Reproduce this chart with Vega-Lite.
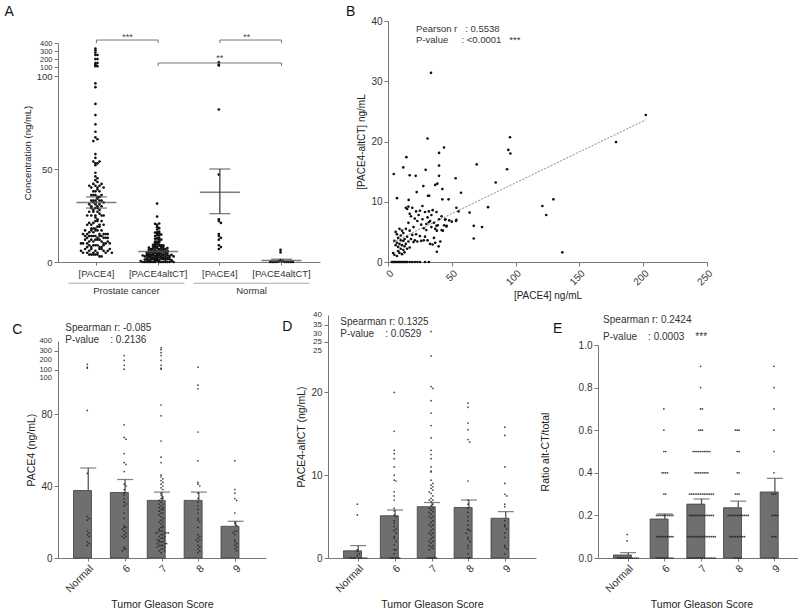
{
"$schema":"https://vega.github.io/schema/vega-lite/v6.json",
"padding":{"left":4,"top":5,"right":0,"bottom":0},
"background":"white",
"config":{"font":"Liberation Sans","view":{"stroke":null},
 "axis":{"domainColor":"#777","tickColor":"#777","labelColor":"#333","titleColor":"#222","titleFontWeight":"normal","labelFontSize":10,"titleFontSize":10.5,"grid":false,"labelFlush":false,"labelOverlap":false,"tickSize":4,"titlePadding":4}},
"datasets":{
 "pace4":[
  {"g":"Normal","v":[160,130,120,82,47,23,22,21,15,14,13,12,9,8,7]},
  {"g":"6","v":[250,200,150,110,74,67,66,58,53,52,48,41,40,38,36,35,33,31,30,29,25,22,18,17,17,16,15,14,13,12,12,11,6,5,5,4]},
  {"g":"7","v":[330,310,280,250,200,150,120,110,85,79,65,56,53,46,45,44,43,42,41,40,39,38,36,35,34,33,33,32,31,30,30,29,28,28,27,27,26,25,25,24,23,22,21,20,20,19,18,17,17,16,15,15,15,14,14,14,14,14,13,13,12,12,11,11,10,10,10,9,9,9,8,8,8,7,7,7,6,6,5,5,4,4,3]},
  {"g":"8","v":[130,96,94,70,54,42,41,40,36,33,31,29,27,25,22,21,20,17,13,12,11,10,10,9,7,6,5,4,3]},
  {"g":"9","v":[54,38,36,33,32,25,20,19,18,15,15,14,13,10,9,8,7,6,5,4]}
 ],
 "alt":[
  {"g":"Normal","v":[6.5,5.2,1.0,0.8,0.5,0.3,0,0,0,0,0,0,0,0,0]},
  {"g":"6","v":[20,15.3,13,12.6,12,11,10,9.4,9.3,8,7.5,7,6,5.7,5.2,5,4.5,4.2,3.8,3.5,3.3,3,2.6,2.4,2,1.6,1,1,0.5,0,0,0,0,0,0]},
  {"g":"7","v":[31.4,24.4,20.7,20.5,19,17.5,16,14.5,13,12.5,12,11,10.5,10.4,9.4,9,8.8,8.6,8.4,8.2,8,7.8,7.5,7.2,7,7,6.8,6.5,6.3,6,6,5.8,5.6,5.5,5.3,5,5,4.8,4.5,4.3,4,4,3.8,3.5,3.3,3,3,2.8,2.5,2.3,2,2,1.8,1.5,1.5,1.3,1.2,1,0,0,0,0,0,0]},
  {"g":"8","v":[18.7,18.2,16.3,15.5,14.3,14,9.3,7,6.5,6,5.5,5,4.5,4,3.5,3.4,3.3,3,2.5,2.3,2,1.5,1.2,0.5,0,0]},
  {"g":"9","v":[15.8,14.8,11,9,7.7,7.5,6.5,6.2,4.5,4,3.8,3.5,3,2.5,1.5,1.3,1.1,0.5]}
 ],
 "ratio":[
  {"g":"Normal","v":[0.11,0.08,0,0,0,0,0,0,0,0,0,0,0,0]},
  {"g":"6","v":[0.7,0.6,0.5,0.5,0.4,0.4,0.4,0.4,0.3,0.3,0.2,0.2,0.2,0.2,0.2,0.2,0.2,0.2,0.2,0.2,0.1,0.1,0.1,0.1,0.1,0.1,0.1,0.1,0.1,0.1,0,0,0,0,0,0,0,0,0,0]},
  {"g":"7","v":[0.9,0.8,0.7,0.7,0.6,0.6,0.6,0.5,0.5,0.5,0.5,0.5,0.5,0.5,0.5,0.5,0.5,0.4,0.4,0.4,0.4,0.4,0.4,0.4,0.4,0.3,0.3,0.3,0.3,0.3,0.3,0.3,0.3,0.3,0.3,0.3,0.3,0.3,0.3,0.2,0.2,0.2,0.2,0.2,0.2,0.2,0.2,0.2,0.2,0.2,0.2,0.2,0.2,0.1,0.1,0.1,0.1,0.1,0.1,0.1,0.1,0.1,0.1,0.1,0.1,0.1,0.1,0.1,0.1,0,0,0,0,0,0,0,0,0,0,0,0,0,0,0,0]},
  {"g":"8","v":[0.6,0.6,0.6,0.5,0.5,0.4,0.4,0.3,0.3,0.3,0.2,0.2,0.2,0.2,0.2,0.2,0.2,0.2,0.2,0.2,0.2,0.2,0.1,0.1,0.1,0.1,0.1,0.1,0.1,0.1,0.1,0,0,0,0,0]},
  {"g":"9","v":[0.9,0.8,0.7,0.6,0.5,0.4,0.3,0.3,0.3,0.2,0.2,0.2,0.2,0.1,0.1,0.1,0]}
 ],
 "cbar":[{"g":["Normal","6","7","8","9"],"m":[37.5,36.4,32,32,17.6],"hi":[50,43.6,36.6,36.6,20.4]}],
 "dbar":[{"g":["Normal","6","7","8","9"],"m":[0.87,5.1,6.2,6.1,4.8],"hi":[1.5,5.8,6.7,7.0,5.6]}],
 "ebar":[{"g":["Normal","6","7","8","9"],"m":[0.014,0.183,0.253,0.236,0.31],"hi":[0.025,0.207,0.277,0.267,0.374]}],
 "asum":[{"g":["PC_P","PC_A","N_P","N_A"],"m":[32,5.7,37.5,0.87],"lo":[29,5.35,26,0.25],"hi":[35,6.05,50,1.5]}],
 "brk":[
  {"b":"b1","g":["PC_P","PC_P","PC_A","PC_A"],"y":[400,437,437,400],"o":[1,2,3,4]},
  {"b":"b2","g":["N_P","N_P","N_A","N_A"],"y":[400,437,437,400],"o":[1,2,3,4]},
  {"b":"b3","g":["PC_A","PC_A","N_A","N_A"],"y":[113,151,151,113],"o":[1,2,3,4]}
 ],
 "grp":[{"grp":"Prostate cancer"},{"grp":"Normal"}],
 "clab":[{"t":"100","y":100},{"t":"100","y":101},{"t":"200","y":200},{"t":"300","y":300},{"t":"400","y":400}],
 "dlab":[{"t":"25","y":25},{"t":"25","y":26},{"t":"30","y":30},{"t":"35","y":35},{"t":"40","y":40}],
 "bxy":[
  {"x":[3,4,5,6,7,8,9,10,11,12,13,14,15,17,19,21,23,25,29,32],"y":[0,0,0,0,0,0,0,0,0,0,0,0,0,0,0,0,0,0,0,0]},
  {"x":[33.7,31,95.6,178.7,202,43.9,14.4,94.3,95.9,40,4.5,12,17,21.7,29.5,40,40,69.5,93.3,84.4,27.7,31.3,32.3,22.5,37,38.7,42.6,53,57.2,7,16.2,42.6,47.5,78.4,121,124,129.6,136.6,64,67.2,67.2,73.7,53.6,53.6,53.3,55.3,44.7,45.7,42,37,38.3,39.7,38.3],
   "y":[31.4,20.5,20.7,19.9,24.4,19,17.4,18.6,18,18.1,14.6,15.7,14.4,14.3,15.3,16,14.3,16.2,15.4,13.2,12.6,11,11,11.6,12.8,13,12.1,13.9,11.5,10.6,10.3,10.4,10.4,9.1,9.3,7.8,10.4,1.6,8.2,6,3.9,5.8,9,7,6.8,8.4,7,5.9,5.3,3.2,1.7,2.6,5.2]},
  {"x":[4,5,5,6,6,7,7,7,8,8,8,9,9,9,10,10,10,11,11,11,12,12,12,13,13,13,14,14,14,15,15,15,16,16,16,17,17,17,18,18,19,19,20,20,21,21,22,22,23,23,24,25,25,26,26,27,27,28,28,29,29,30,30,31,31,32,32,33,33,34,34,35,35,36,36,37,38,38,39,40,41,42,43,44,45,46,48,50],
   "y":[1.5,1.2,3.5,5,2.8,1.0,3.2,4.6,2.5,1.8,4.0,3.0,1.5,5.5,2.2,4.4,3.6,2.8,1.3,5.2,3.5,2.0,4.8,2.6,3.8,1.6,5.5,3.0,9.0,2.2,4.2,8.8,6.5,3.4,9.2,5.2,2.4,8.0,3.8,7.6,4.5,9.0,3.3,5.8,7.2,3.6,4.6,8.4,3.4,6.8,7.8,4.3,8.5,3.5,6.2,9.3,7.1,3.6,5.6,8.3,4.2,6.3,5.3,7.4,3.6,6.6,8.4,3.0,6.8,5.8,7.8,8.6,2.9,6.5,4.0,5.5,8.3,6.0,6.1,7.1,3.4,7.6,5.2,6.1,7.1,6.0,6.9,6.7]}
 ],
 "breg":[{"x":[4,202],"y":[3.3,23.6]}]
},
"spacing":10,
"resolve":{"scale":{"xOffset":"independent","x":"independent","y":"independent"}},
"vconcat":[
 {"hconcat":[
  {"width":262,"height":241,
   "layer":[
    {"layer":[
     {"data":{"name":"pace4"},"transform":[{"flatten":["v"]},{"filter":"datum.g!='Normal'"},{"bin":{"step":2.5},"field":"v","as":"vb"},{"window":[{"op":"row_number","as":"r"}],"groupby":["vb"]}],
      "mark":{"type":"circle","size":7,"color":"#111","opacity":1},
      "encoding":{
       "x":{"datum":"PC_P","type":"nominal","scale":{"type":"band","domain":["PC_P","PC_A","N_P","N_A"],"paddingInner":0,"paddingOuter":0.123},
            "axis":{"title":null,"labelExpr":"datum.value=='PC_P'||datum.value=='N_P'?'[PACE4]':'[PACE4altCT]'","labelAngle":0,"labelFontSize":9.5,"tickSize":3,"labelPadding":3}},
       "xOffset":{"field":"r","type":"nominal","scale":{"domain":[29,27,25,23,21,19,17,15,13,11,9,7,5,3,1,2,4,6,8,10,12,14,16,18,20,22,24,26,28,30],"range":[0,61.7]}},
       "y":{"field":"v","type":"quantitative","scale":{"domain":[0,100,101,400],"range":[241,55,46,22],"nice":false,"zero":false},
            "axis":{"title":"Concentration (ng/mL)","values":[0,50,100,101,200,300,400],"labelExpr":"datum.value==101?'100':datum.label","labelOverlap":false,"labelSeparation":-8,"labelFontSize":{"condition":{"test":"datum.value>100","value":7.5},"value":9.5},"titleFontSize":9.5}}}},
     {"data":{"name":"alt"},"transform":[{"flatten":["v"]},{"filter":"datum.g!='Normal'"},{"bin":{"step":1},"field":"v","as":"vb"},{"window":[{"op":"row_number","as":"r"}],"groupby":["vb"]}],
      "mark":{"type":"circle","size":7,"color":"#111","opacity":1},
      "encoding":{"x":{"datum":"PC_A","type":"nominal"},"xOffset":{"field":"r","type":"nominal"},"y":{"field":"v","type":"quantitative"}}},
     {"data":{"name":"pace4"},"transform":[{"flatten":["v"]},{"filter":"datum.g=='Normal'"},{"bin":{"step":2.5},"field":"v","as":"vb"},{"window":[{"op":"row_number","as":"r"}],"groupby":["vb"]}],
      "mark":{"type":"circle","size":7,"color":"#111","opacity":1},
      "encoding":{"x":{"datum":"N_P","type":"nominal"},"xOffset":{"field":"r","type":"nominal"},"y":{"field":"v","type":"quantitative"}}},
     {"data":{"name":"alt"},"transform":[{"flatten":["v"]},{"filter":"datum.g=='Normal'"},{"bin":{"step":1},"field":"v","as":"vb"},{"window":[{"op":"row_number","as":"r"}],"groupby":["vb"]}],
      "mark":{"type":"circle","size":7,"color":"#111","opacity":1},
      "encoding":{"x":{"datum":"N_A","type":"nominal"},"xOffset":{"field":"r","type":"nominal"},"y":{"field":"v","type":"quantitative"}}},
     {"data":{"name":"asum"},"transform":[{"flatten":["g","m","lo","hi"]}],
      "mark":{"type":"rule","color":"#444","strokeWidth":1.3},
      "encoding":{"x":{"field":"g","type":"nominal"},"y":{"field":"lo","type":"quantitative"},"y2":{"field":"hi"}}},
     {"data":{"name":"asum"},"transform":[{"flatten":["g","m","lo","hi"]}],
      "mark":{"type":"tick","color":"#444","size":40,"thickness":1.5},
      "encoding":{"x":{"field":"g","type":"nominal"},"y":{"field":"m","type":"quantitative"}}},
     {"data":{"name":"asum"},"transform":[{"flatten":["g","m","lo","hi"]}],
      "mark":{"type":"tick","color":"#444","size":21,"thickness":1.3},
      "encoding":{"x":{"field":"g","type":"nominal"},"y":{"field":"lo","type":"quantitative"}}},
     {"data":{"name":"asum"},"transform":[{"flatten":["g","m","lo","hi"]}],
      "mark":{"type":"tick","color":"#444","size":21,"thickness":1.3},
      "encoding":{"x":{"field":"g","type":"nominal"},"y":{"field":"hi","type":"quantitative"}}},
     {"data":{"name":"brk"},"transform":[{"flatten":["g","y","o"]}],
      "mark":{"type":"line","color":"#666","strokeWidth":0.9},
      "encoding":{"x":{"field":"g","type":"nominal"},"y":{"field":"y","type":"quantitative"},"detail":{"field":"b"},"order":{"field":"o"}}},
     {"data":{"values":[{}]},"mark":{"type":"text","text":"***","fontSize":9,"color":"#444","dx":31,"baseline":"middle"},
      "encoding":{"x":{"datum":"PC_P","type":"nominal"},"y":{"datum":480}}},
     {"data":{"values":[{}]},"mark":{"type":"text","text":"**","fontSize":9,"color":"#444","dx":27,"baseline":"middle"},
      "encoding":{"x":{"datum":"N_P","type":"nominal"},"y":{"datum":480}}},
     {"data":{"values":[{}]},"mark":{"type":"text","text":"**","fontSize":9,"color":"#444","baseline":"middle"},
      "encoding":{"x":{"datum":"N_P","type":"nominal"},"y":{"datum":215}}},
     {"data":{"values":[{}]},"mark":{"type":"text","text":"A","fontSize":14,"color":"#111","align":"left","baseline":"top","dx":-92,"dy":-38},
      "encoding":{"x":{"datum":"PC_P","type":"nominal"},"y":{"datum":400}}}
    ]},
    {"data":{"name":"grp"},"mark":{"type":"tick","color":"#888","size":116,"thickness":1},
     "encoding":{"x":{"field":"grp","type":"nominal","sort":["Prostate cancer","Normal"],"scale":{"type":"band","paddingInner":0.08,"paddingOuter":0.087},
       "axis":{"orient":"bottom","offset":20,"domain":false,"ticks":false,"title":null,"labelAngle":0,"labelFontSize":9.5,"labelPadding":3}},
      "y":{"datum":-11.4}}}
   ],
   "resolve":{"scale":{"x":"independent"}}
  },
  {"width":319,"height":241,
   "layer":[
    {"data":{"name":"bxy"},"transform":[{"flatten":["x","y"]}],
     "mark":{"type":"circle","size":7,"color":"#111","opacity":1},
     "encoding":{"x":{"field":"x","type":"quantitative","scale":{"domain":[0,250],"nice":false},"axis":{"title":"[PACE4] ng/mL","values":[0,50,100,150,200,250],"labelAngle":-45,"titleFontSize":10}},
      "y":{"field":"y","type":"quantitative","scale":{"domain":[0,40],"nice":false},"axis":{"title":"[PACE4-altCT] ng/mL","values":[0,10,20,30,40],"titleFontSize":10}}}},
    {"data":{"name":"breg"},"transform":[{"flatten":["x","y"]}],
     "mark":{"type":"line","color":"#777","strokeWidth":0.9,"strokeDash":[2,1.5]},
     "encoding":{"x":{"field":"x","type":"quantitative"},"y":{"field":"y","type":"quantitative"}}},
    {"data":{"values":[{}]},"mark":{"type":"text","text":"Pearson r\u00a0\u00a0\u00a0: 0.5538","fontSize":9.5,"color":"#333","align":"left","baseline":"middle"},
     "encoding":{"x":{"datum":22},"y":{"datum":38.6}}},
    {"data":{"values":[{}]},"mark":{"type":"text","text":"P-value\u00a0\u00a0\u00a0\u00a0\u00a0: <0.0001\u00a0\u00a0\u00a0***","fontSize":9.5,"color":"#333","align":"left","baseline":"middle"},
     "encoding":{"x":{"datum":22},"y":{"datum":36.9}}},
    {"data":{"values":[{}]},"mark":{"type":"text","text":"B","fontSize":14,"color":"#111","align":"left","baseline":"top","dx":-42,"dy":-16},
     "encoding":{"x":{"datum":0},"y":{"datum":40}}}
   ]}
 ],"spacing":68,"bounds":"flush","resolve":{"scale":{"xOffset":"independent","x":"independent","y":"independent"}}},
 {"hconcat":[
  {"width":208,"height":243,
   "layer":[
    {"data":{"name":"cbar"},"transform":[{"flatten":["g","m","hi"]}],
     "mark":{"type":"rule","color":"#4a4a4a","strokeWidth":1.2},
     "encoding":{"x":{"field":"g","type":"nominal","scale":{"type":"band","domain":["Normal","6","7","8","9"],"paddingInner":0.2,"paddingOuter":0.42},
       "axis":{"title":"Tumor Gleason Score","labelAngle":-45,"labelFontSize":10.5,"tickSize":3,"titlePadding":5}},
      "y":{"field":"m","type":"quantitative","scale":{"domain":[0,100,101,400],"range":[243,63,55,26],"nice":false,"zero":false},
       "axis":{"title":"PACE4 (ng/mL)","values":[0,20,40,60,80,100,101,200,300,400],"labelExpr":"datum.value>=100?'':datum.label","labelOverlap":false}},
      "y2":{"field":"hi"}}},
    {"data":{"name":"cbar"},"transform":[{"flatten":["g","m","hi"]}],
     "mark":{"type":"bar","color":"#6f6f6f","stroke":"#3d3d3d","strokeWidth":0.8},
     "encoding":{"x":{"field":"g","type":"nominal"},"y":{"field":"m","type":"quantitative","stack":null}}},
    {"data":{"name":"pace4"},"transform":[{"flatten":["v"]},{"bin":{"step":2},"field":"v","as":"vb"},{"window":[{"op":"row_number","as":"r"}],"groupby":["g","vb"]}],
     "mark":{"type":"circle","size":3,"color":"#222","opacity":0.85},
     "encoding":{"x":{"field":"g","type":"nominal"},"xOffset":{"field":"r","type":"nominal","scale":{"domain":[15,13,11,9,7,5,3,1,2,4,6,8,10,12,14,16],"range":[0,29.5]}},"y":{"field":"v","type":"quantitative"}}},
    {"data":{"name":"cbar"},"transform":[{"flatten":["g","m","hi"]}],
     "mark":{"type":"tick","color":"#4a4a4a","size":16,"thickness":1.2},
     "encoding":{"x":{"field":"g","type":"nominal"},"y":{"field":"hi","type":"quantitative"}}},
    {"data":{"name":"clab"},"mark":{"type":"text","fontSize":7.5,"color":"#333","align":"right","baseline":"middle","dx":-36.3},
     "encoding":{"x":{"datum":"Normal","type":"nominal"},"y":{"field":"y","type":"quantitative"},"text":{"field":"t"}}},
    {"data":{"values":[{}]},"mark":{"type":"text","text":"Spearman r: -0.085","fontSize":10,"color":"#333","align":"left","baseline":"middle","dx":-23,"dy":-13},
     "encoding":{"x":{"datum":"Normal","type":"nominal"},"y":{"datum":400}}},
    {"data":{"values":[{}]},"mark":{"type":"text","text":"P-value\u00a0\u00a0\u00a0\u00a0: 0.2136","fontSize":10,"color":"#333","align":"left","baseline":"middle","dx":-23,"dy":-1},
     "encoding":{"x":{"datum":"Normal","type":"nominal"},"y":{"datum":400}}},
    {"data":{"values":[{}]},"mark":{"type":"text","text":"C","fontSize":14,"color":"#111","align":"left","baseline":"middle","dx":-76,"dy":-11},
     "encoding":{"x":{"datum":"Normal","type":"nominal"},"y":{"datum":400}}}
   ]},
  {"width":208,"height":243,
   "layer":[
    {"data":{"name":"dbar"},"transform":[{"flatten":["g","m","hi"]}],
     "mark":{"type":"rule","color":"#4a4a4a","strokeWidth":1.2},
     "encoding":{"x":{"field":"g","type":"nominal","scale":{"type":"band","domain":["Normal","6","7","8","9"],"paddingInner":0.2,"paddingOuter":0.42},
       "axis":{"title":"Tumor Gleason Score","labelAngle":-45,"labelFontSize":10.5,"tickSize":3,"titlePadding":5}},
      "y":{"field":"m","type":"quantitative","scale":{"domain":[0,25,26,40],"range":[243,36,27,0],"nice":false,"zero":false},
       "axis":{"title":"PACE4-altCT (ng/mL)","values":[0,5,10,15,20,25,26,30,35,40],"labelExpr":"datum.value>=25?'':datum.label","labelOverlap":false}},
      "y2":{"field":"hi"}}},
    {"data":{"name":"dbar"},"transform":[{"flatten":["g","m","hi"]}],
     "mark":{"type":"bar","color":"#6f6f6f","stroke":"#3d3d3d","strokeWidth":0.8},
     "encoding":{"x":{"field":"g","type":"nominal"},"y":{"field":"m","type":"quantitative","stack":null}}},
    {"data":{"name":"alt"},"transform":[{"flatten":["v"]},{"bin":{"step":0.5},"field":"v","as":"vb"},{"window":[{"op":"row_number","as":"r"}],"groupby":["g","vb"]}],
     "mark":{"type":"circle","size":3,"color":"#222","opacity":0.85},
     "encoding":{"x":{"field":"g","type":"nominal"},"xOffset":{"field":"r","type":"nominal","scale":{"domain":[15,13,11,9,7,5,3,1,2,4,6,8,10,12,14,16],"range":[0,29.5]}},"y":{"field":"v","type":"quantitative"}}},
    {"data":{"name":"dbar"},"transform":[{"flatten":["g","m","hi"]}],
     "mark":{"type":"tick","color":"#4a4a4a","size":16,"thickness":1.2},
     "encoding":{"x":{"field":"g","type":"nominal"},"y":{"field":"hi","type":"quantitative"}}},
    {"data":{"name":"dlab"},"mark":{"type":"text","fontSize":8,"color":"#333","align":"right","baseline":"middle","dx":-36.3},
     "encoding":{"x":{"datum":"Normal","type":"nominal"},"y":{"field":"y","type":"quantitative"},"text":{"field":"t"}}},
    {"data":{"values":[{}]},"mark":{"type":"text","text":"Spearman r: 0.1325","fontSize":10,"color":"#333","align":"left","baseline":"middle","dx":-18,"dy":7},
     "encoding":{"x":{"datum":"Normal","type":"nominal"},"y":{"datum":40}}},
    {"data":{"values":[{}]},"mark":{"type":"text","text":"P-value\u00a0\u00a0\u00a0\u00a0: 0.0529","fontSize":10,"color":"#333","align":"left","baseline":"middle","dx":-18,"dy":19},
     "encoding":{"x":{"datum":"Normal","type":"nominal"},"y":{"datum":40}}},
    {"data":{"values":[{}]},"mark":{"type":"text","text":"D","fontSize":14,"color":"#111","align":"left","baseline":"middle","dx":-76,"dy":12},
     "encoding":{"x":{"datum":"Normal","type":"nominal"},"y":{"datum":40}}}
   ]},
  {"width":207,"height":243,
   "layer":[
    {"data":{"name":"ebar"},"transform":[{"flatten":["g","m","hi"]}],
     "mark":{"type":"rule","color":"#4a4a4a","strokeWidth":1.2},
     "encoding":{"x":{"field":"g","type":"nominal","scale":{"type":"band","domain":["Normal","6","7","8","9"],"paddingInner":0.2,"paddingOuter":0.42},
       "axis":{"title":"Tumor Gleason Score","labelAngle":-45,"labelFontSize":10.5,"tickSize":3,"titlePadding":5}},
      "y":{"field":"m","type":"quantitative","scale":{"domain":[0,1],"range":[243,30],"nice":false,"zero":false},
       "axis":{"title":"Ratio alt-CT/total","values":[0,0.2,0.4,0.6,0.8,1],"format":".1f","titlePadding":28}},
      "y2":{"field":"hi"}}},
    {"data":{"name":"ebar"},"transform":[{"flatten":["g","m","hi"]}],
     "mark":{"type":"bar","color":"#6f6f6f","stroke":"#3d3d3d","strokeWidth":0.8},
     "encoding":{"x":{"field":"g","type":"nominal"},"y":{"field":"m","type":"quantitative","stack":null}}},
    {"data":{"name":"ratio"},"transform":[{"flatten":["v"]},{"window":[{"op":"row_number","as":"r"}],"groupby":["g","v"]}],
     "mark":{"type":"circle","size":3,"color":"#222","opacity":0.85},
     "encoding":{"x":{"field":"g","type":"nominal"},"xOffset":{"field":"r","type":"nominal","scale":{"domain":[15,13,11,9,7,5,3,1,2,4,6,8,10,12,14,16],"range":[0,29.3]}},"y":{"field":"v","type":"quantitative"}}},
    {"data":{"name":"ebar"},"transform":[{"flatten":["g","m","hi"]}],
     "mark":{"type":"tick","color":"#4a4a4a","size":16,"thickness":1.2},
     "encoding":{"x":{"field":"g","type":"nominal"},"y":{"field":"hi","type":"quantitative"}}},
    {"data":{"values":[{}]},"mark":{"type":"text","text":"Spearman r: 0.2424","fontSize":10,"color":"#333","align":"left","baseline":"middle","dx":-25,"dy":-25},
     "encoding":{"x":{"datum":"Normal","type":"nominal"},"y":{"datum":1}}},
    {"data":{"values":[{}]},"mark":{"type":"text","text":"P-value\u00a0\u00a0\u00a0\u00a0: 0.0003\u00a0\u00a0\u00a0\u00a0***","fontSize":10,"color":"#333","align":"left","baseline":"middle","dx":-25,"dy":-8},
     "encoding":{"x":{"datum":"Normal","type":"nominal"},"y":{"datum":1}}},
    {"data":{"values":[{}]},"mark":{"type":"text","text":"E","fontSize":14,"color":"#111","align":"left","baseline":"middle","dx":-75,"dy":-16},
     "encoding":{"x":{"datum":"Normal","type":"nominal"},"y":{"datum":1}}}
   ]}
 ],"spacing":62,"bounds":"flush","resolve":{"scale":{"xOffset":"independent","x":"independent","y":"independent"}}}
]
}
